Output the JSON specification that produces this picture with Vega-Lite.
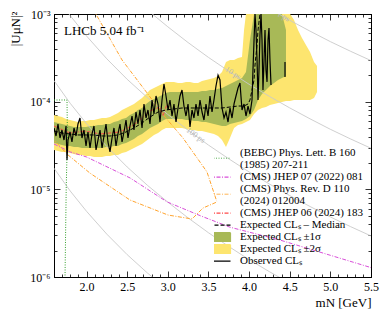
{
"$schema": "https://vega.github.io/schema/vega-lite/v6.json",
"width": 317, "height": 263,
"autosize": {"type": "none"},
"padding": {"left": 54, "top": 14, "right": 18, "bottom": 41},
"background": "white",
"config": {"view": {"stroke": "black", "strokeWidth": 1}, "axis": {"grid": false}, "font": "Liberation Serif"},
"datasets": {
"bands": [
{"m":1.6,"lo":2.81e-5,"hi":7.05e-5,"s":"s2"},{"m":1.649,"lo":2.74e-5,"hi":6.86e-5,"s":"s2"},{"m":1.698,"lo":2.67e-5,"hi":6.68e-5,"s":"s2"},{"m":1.748,"lo":2.67e-5,"hi":6.34e-5,"s":"s2"},{"m":1.797,"lo":2.6e-5,"hi":6.18e-5,"s":"s2"},{"m":1.846,"lo":2.53e-5,"hi":6.02e-5,"s":"s2"},{"m":1.895,"lo":2.46e-5,"hi":5.86e-5,"s":"s2"},{"m":1.944,"lo":2.46e-5,"hi":6.02e-5,"s":"s2"},{"m":1.994,"lo":2.4e-5,"hi":6.02e-5,"s":"s2"},{"m":2.043,"lo":2.4e-5,"hi":6.18e-5,"s":"s2"},{"m":2.092,"lo":2.34e-5,"hi":6.18e-5,"s":"s2"},{"m":2.141,"lo":2.34e-5,"hi":6.34e-5,"s":"s2"},{"m":2.191,"lo":2.34e-5,"hi":6.51e-5,"s":"s2"},{"m":2.24,"lo":2.4e-5,"hi":6.51e-5,"s":"s2"},{"m":2.289,"lo":2.4e-5,"hi":6.68e-5,"s":"s2"},{"m":2.338,"lo":2.46e-5,"hi":7.05e-5,"s":"s2"},{"m":2.387,"lo":2.46e-5,"hi":7.43e-5,"s":"s2"},{"m":2.437,"lo":2.6e-5,"hi":8.04e-5,"s":"s2"},{"m":2.486,"lo":2.67e-5,"hi":8.47e-5,"s":"s2"},{"m":2.535,"lo":2.81e-5,"hi":8.92e-5,"s":"s2"},{"m":2.584,"lo":2.96e-5,"hi":9.41e-5,"s":"s2"},{"m":2.633,"lo":3.12e-5,"hi":1.02e-4,"s":"s2"},{"m":2.683,"lo":3.29e-5,"hi":1.1e-4,"s":"s2"},{"m":2.732,"lo":3.56e-5,"hi":1.22e-4,"s":"s2"},{"m":2.781,"lo":3.85e-5,"hi":1.36e-4,"s":"s2"},{"m":2.83,"lo":4.17e-5,"hi":1.43e-4,"s":"s2"},{"m":2.88,"lo":4.39e-5,"hi":1.51e-4,"s":"s2"},{"m":2.929,"lo":4.75e-5,"hi":1.59e-4,"s":"s2"},{"m":2.978,"lo":5.01e-5,"hi":1.68e-4,"s":"s2"},{"m":3.027,"lo":5.01e-5,"hi":1.68e-4,"s":"s2"},{"m":3.076,"lo":5.01e-5,"hi":1.68e-4,"s":"s2"},{"m":3.126,"lo":5.01e-5,"hi":1.63e-4,"s":"s2"},{"m":3.175,"lo":5.01e-5,"hi":1.63e-4,"s":"s2"},{"m":3.224,"lo":4.88e-5,"hi":1.68e-4,"s":"s2"},{"m":3.273,"lo":4.75e-5,"hi":1.68e-4,"s":"s2"},{"m":3.322,"lo":4.75e-5,"hi":1.63e-4,"s":"s2"},{"m":3.372,"lo":4.63e-5,"hi":1.63e-4,"s":"s2"},{"m":3.421,"lo":4.63e-5,"hi":1.72e-4,"s":"s2"},{"m":3.47,"lo":4.51e-5,"hi":1.77e-4,"s":"s2"},{"m":3.519,"lo":4.39e-5,"hi":1.81e-4,"s":"s2"},{"m":3.568,"lo":4.28e-5,"hi":1.86e-4,"s":"s2"},{"m":3.618,"lo":4.06e-5,"hi":1.96e-4,"s":"s2"},{"m":3.667,"lo":3.65e-5,"hi":2.18e-4,"s":"s2"},{"m":3.716,"lo":3.04e-5,"hi":2.83e-4,"s":"s2"},{"m":3.765,"lo":3.85e-5,"hi":2.99e-4,"s":"s2"},{"m":3.815,"lo":5.01e-5,"hi":2.99e-4,"s":"s2"},{"m":3.864,"lo":5.42e-5,"hi":3.15e-4,"s":"s2"},{"m":3.913,"lo":5.56e-5,"hi":3.23e-4,"s":"s2"},{"m":3.938,"lo":5.71e-5,"hi":6.57e-4,"s":"s2"},{"m":3.962,"lo":5.86e-5,"hi":1e-3,"s":"s2"},{"m":4.011,"lo":6.18e-5,"hi":1e-3,"s":"s2"},{"m":4.061,"lo":7.23e-5,"hi":1e-3,"s":"s2"},{"m":4.11,"lo":8.04e-5,"hi":1e-3,"s":"s2"},{"m":4.159,"lo":8.47e-5,"hi":1e-3,"s":"s2"},{"m":4.208,"lo":8.69e-5,"hi":1e-3,"s":"s2"},{"m":4.257,"lo":9.16e-5,"hi":1e-3,"s":"s2"},{"m":4.307,"lo":9.41e-5,"hi":1e-3,"s":"s2"},{"m":4.356,"lo":9.66e-5,"hi":1e-3,"s":"s2"},{"m":4.405,"lo":9.92e-5,"hi":1e-3,"s":"s2"},{"m":4.454,"lo":1.02e-4,"hi":1e-3,"s":"s2"},{"m":4.504,"lo":1.02e-4,"hi":1e-3,"s":"s2"},{"m":4.553,"lo":1.045e-4,"hi":8.54e-4,"s":"s2"},{"m":4.602,"lo":1.045e-4,"hi":6.57e-4,"s":"s2"},{"m":4.651,"lo":1.045e-4,"hi":5.32e-4,"s":"s2"},{"m":4.7,"lo":1.045e-4,"hi":4.43e-4,"s":"s2"},{"m":4.75,"lo":1.045e-4,"hi":3.69e-4,"s":"s2"},{"m":4.799,"lo":1.1e-4,"hi":2.83e-4,"s":"s2"},{"m":4.836,"lo":1.29e-4,"hi":2.55e-4,"s":"s2"},
{"m":1.6,"lo":3.38e-5,"hi":5.86e-5,"s":"s1"},{"m":1.649,"lo":3.29e-5,"hi":5.71e-5,"s":"s1"},{"m":1.698,"lo":3.2e-5,"hi":5.56e-5,"s":"s1"},{"m":1.748,"lo":3.12e-5,"hi":5.42e-5,"s":"s1"},{"m":1.797,"lo":3.12e-5,"hi":5.28e-5,"s":"s1"},{"m":1.846,"lo":3.04e-5,"hi":5.14e-5,"s":"s1"},{"m":1.895,"lo":3.04e-5,"hi":5.14e-5,"s":"s1"},{"m":1.944,"lo":2.96e-5,"hi":5.14e-5,"s":"s1"},{"m":1.994,"lo":2.96e-5,"hi":5.14e-5,"s":"s1"},{"m":2.043,"lo":2.96e-5,"hi":5.28e-5,"s":"s1"},{"m":2.092,"lo":2.96e-5,"hi":5.28e-5,"s":"s1"},{"m":2.141,"lo":2.96e-5,"hi":5.42e-5,"s":"s1"},{"m":2.191,"lo":2.96e-5,"hi":5.42e-5,"s":"s1"},{"m":2.24,"lo":3.04e-5,"hi":5.56e-5,"s":"s1"},{"m":2.289,"lo":3.04e-5,"hi":5.56e-5,"s":"s1"},{"m":2.338,"lo":3.12e-5,"hi":5.86e-5,"s":"s1"},{"m":2.387,"lo":3.12e-5,"hi":6.02e-5,"s":"s1"},{"m":2.437,"lo":3.29e-5,"hi":6.34e-5,"s":"s1"},{"m":2.486,"lo":3.38e-5,"hi":6.51e-5,"s":"s1"},{"m":2.535,"lo":3.56e-5,"hi":7.05e-5,"s":"s1"},{"m":2.584,"lo":3.75e-5,"hi":7.43e-5,"s":"s1"},{"m":2.633,"lo":4.06e-5,"hi":8.04e-5,"s":"s1"},{"m":2.683,"lo":4.28e-5,"hi":8.47e-5,"s":"s1"},{"m":2.732,"lo":4.63e-5,"hi":9.41e-5,"s":"s1"},{"m":2.781,"lo":5.01e-5,"hi":1.02e-4,"s":"s1"},{"m":2.83,"lo":5.28e-5,"hi":1.07e-4,"s":"s1"},{"m":2.88,"lo":5.56e-5,"hi":1.13e-4,"s":"s1"},{"m":2.929,"lo":6.02e-5,"hi":1.19e-4,"s":"s1"},{"m":2.978,"lo":6.34e-5,"hi":1.26e-4,"s":"s1"},{"m":3.027,"lo":6.34e-5,"hi":1.29e-4,"s":"s1"},{"m":3.076,"lo":6.34e-5,"hi":1.29e-4,"s":"s1"},{"m":3.126,"lo":6.34e-5,"hi":1.29e-4,"s":"s1"},{"m":3.175,"lo":6.34e-5,"hi":1.29e-4,"s":"s1"},{"m":3.224,"lo":6.18e-5,"hi":1.29e-4,"s":"s1"},{"m":3.273,"lo":6.18e-5,"hi":1.29e-4,"s":"s1"},{"m":3.322,"lo":6.02e-5,"hi":1.29e-4,"s":"s1"},{"m":3.372,"lo":6.02e-5,"hi":1.29e-4,"s":"s1"},{"m":3.421,"lo":5.86e-5,"hi":1.32e-4,"s":"s1"},{"m":3.47,"lo":5.86e-5,"hi":1.32e-4,"s":"s1"},{"m":3.519,"lo":5.71e-5,"hi":1.36e-4,"s":"s1"},{"m":3.568,"lo":5.56e-5,"hi":1.36e-4,"s":"s1"},{"m":3.618,"lo":5.42e-5,"hi":1.4e-4,"s":"s1"},{"m":3.667,"lo":5.28e-5,"hi":1.43e-4,"s":"s1"},{"m":3.716,"lo":5.28e-5,"hi":1.51e-4,"s":"s1"},{"m":3.765,"lo":5.56e-5,"hi":1.59e-4,"s":"s1"},{"m":3.815,"lo":5.71e-5,"hi":1.68e-4,"s":"s1"},{"m":3.864,"lo":5.86e-5,"hi":1.77e-4,"s":"s1"},{"m":3.913,"lo":6.02e-5,"hi":1.86e-4,"s":"s1"},{"m":3.962,"lo":6.34e-5,"hi":2.18e-4,"s":"s1"},{"m":4.011,"lo":6.86e-5,"hi":5.05e-4,"s":"s1"},{"m":4.061,"lo":8.04e-5,"hi":1e-3,"s":"s1"},{"m":4.11,"lo":1.045e-4,"hi":1e-3,"s":"s1"},{"m":4.159,"lo":1.22e-4,"hi":1e-3,"s":"s1"},{"m":4.208,"lo":1.36e-4,"hi":1e-3,"s":"s1"},{"m":4.257,"lo":1.51e-4,"hi":1e-3,"s":"s1"},{"m":4.307,"lo":1.63e-4,"hi":1e-3,"s":"s1"},{"m":4.356,"lo":1.77e-4,"hi":1e-3,"s":"s1"},{"m":4.405,"lo":1.86e-4,"hi":1e-3,"s":"s1"},{"m":4.454,"lo":1.96e-4,"hi":6.57e-4,"s":"s1"}
],
"life": [
{"m":4.0,"u":1.58e-3,"t":"1"},{"m":4.25,"u":1.15e-3,"t":"1"},{"m":4.5,"u":8.49e-4,"t":"1"},{"m":4.75,"u":6.37e-4,"t":"1"},{"m":5.0,"u":4.84e-4,"t":"1"},{"m":5.25,"u":3.75e-4,"t":"1"},{"m":5.5,"u":2.94e-4,"t":"1"},
{"m":2.5,"u":1.8e-3,"t":"10"},{"m":2.75,"u":1.11e-3,"t":"10"},{"m":3.0,"u":7.15e-4,"t":"10"},{"m":3.25,"u":4.72e-4,"t":"10"},{"m":3.5,"u":3.2e-4,"t":"10"},{"m":3.75,"u":2.23e-4,"t":"10"},{"m":4.0,"u":1.58e-4,"t":"10"},{"m":4.25,"u":1.15e-4,"t":"10"},{"m":4.5,"u":8.49e-5,"t":"10"},{"m":4.75,"u":6.37e-5,"t":"10"},{"m":5.0,"u":4.84e-5,"t":"10"},{"m":5.25,"u":3.75e-5,"t":"10"},{"m":5.5,"u":2.94e-5,"t":"10"},
{"m":1.6,"u":1.74e-3,"t":"100"},{"m":1.8,"u":9.56e-4,"t":"100"},{"m":2.0,"u":5.62e-4,"t":"100"},{"m":2.25,"u":3.08e-4,"t":"100"},{"m":2.5,"u":1.8e-4,"t":"100"},{"m":2.75,"u":1.11e-4,"t":"100"},{"m":3.0,"u":7.15e-5,"t":"100"},{"m":3.25,"u":4.72e-5,"t":"100"},{"m":3.5,"u":3.2e-5,"t":"100"},{"m":3.75,"u":2.23e-5,"t":"100"},{"m":4.0,"u":1.58e-5,"t":"100"},{"m":4.25,"u":1.15e-5,"t":"100"},{"m":4.5,"u":8.49e-6,"t":"100"},{"m":4.75,"u":6.37e-6,"t":"100"},{"m":5.0,"u":4.84e-6,"t":"100"},{"m":5.25,"u":3.75e-6,"t":"100"},{"m":5.5,"u":2.94e-6,"t":"100"},
{"m":1.6,"u":1.74e-4,"t":"1000"},{"m":1.8,"u":9.56e-5,"t":"1000"},{"m":2.0,"u":5.62e-5,"t":"1000"},{"m":2.25,"u":3.08e-5,"t":"1000"},{"m":2.5,"u":1.8e-5,"t":"1000"},{"m":2.75,"u":1.11e-5,"t":"1000"},{"m":3.0,"u":7.15e-6,"t":"1000"},{"m":3.25,"u":4.72e-6,"t":"1000"},{"m":3.5,"u":3.2e-6,"t":"1000"},{"m":3.75,"u":2.23e-6,"t":"1000"},{"m":4.0,"u":1.58e-6,"t":"1000"},{"m":4.25,"u":1.15e-6,"t":"1000"},{"m":4.5,"u":8.49e-7,"t":"1000"},
{"m":1.6,"u":1.74e-5,"t":"10000"},{"m":1.8,"u":9.56e-6,"t":"10000"},{"m":2.0,"u":5.62e-6,"t":"10000"},{"m":2.25,"u":3.08e-6,"t":"10000"},{"m":2.5,"u":1.8e-6,"t":"10000"},{"m":2.75,"u":1.11e-6,"t":"10000"},{"m":3.0,"u":7.15e-7,"t":"10000"}
],
"lines": [
{"m":1.6,"u":1.045e-4,"s":"bebc","g":"bebc","i":1},{"m":1.76,"u":1.045e-4,"s":"bebc","g":"bebc","i":2},{"m":1.765,"u":4e-5,"s":"bebc","g":"bebc","i":3},{"m":1.75,"u":1e-5,"s":"bebc","g":"bebc","i":4},{"m":1.735,"u":9e-7,"s":"bebc","g":"bebc","i":5},
{"m":1.6,"u":3.29e-5,"s":"cms07","g":"cms07","i":6},{"m":1.8,"u":2.67e-5,"s":"cms07","g":"cms07","i":7},{"m":2.0,"u":2.34e-5,"s":"cms07","g":"cms07","i":8},{"m":2.535,"u":1.35e-5,"s":"cms07","g":"cms07","i":9},{"m":2.99,"u":7.2e-6,"s":"cms07","g":"cms07","i":10},{"m":3.4,"u":5.0e-6,"s":"cms07","g":"cms07","i":11},{"m":3.765,"u":3.7e-6,"s":"cms07","g":"cms07","i":12},{"m":4.38,"u":2.64e-6,"s":"cms07","g":"cms07","i":13},{"m":5.5,"u":1.28e-6,"s":"cms07","g":"cms07","i":14},
{"m":2.08,"u":1.14e-3,"s":"cmsprd","g":"cmsprd","i":15},{"m":2.437,"u":2.99e-4,"s":"cmsprd","g":"cmsprd","i":16},{"m":2.744,"u":1.26e-4,"s":"cmsprd","g":"cmsprd","i":17},{"m":2.966,"u":6.68e-5,"s":"cmsprd","g":"cmsprd","i":18},{"m":3.187,"u":3.85e-5,"s":"cmsprd","g":"cmsprd","i":19},{"m":3.482,"u":1.58e-5,"s":"cmsprd","g":"cmsprd","i":20},{"m":3.605,"u":7.18e-6,"s":"cmsprd","g":"cmsprd","i":21},{"m":3.433,"u":6.12e-6,"s":"cmsprd","g":"cmsprd","i":22},{"m":3.298,"u":4.59e-6,"s":"cmsprd","g":"cmsprd","i":23},{"m":3.003,"u":5.09e-6,"s":"cmsprd","g":"cmsprd","i":24},{"m":2.535,"u":7.55e-6,"s":"cmsprd","g":"cmsprd","i":25},{"m":2.043,"u":1.53e-5,"s":"cmsprd","g":"cmsprd","i":26},{"m":1.772,"u":2.47e-5,"s":"cmsprd","g":"cmsprd","i":27},{"m":1.6,"u":3.65e-5,"s":"cmsprd","g":"cmsprd","i":28},
{"m":1.6,"u":5.28e-5,"s":"cms06","g":"cms06","i":29},{"m":1.797,"u":4.39e-5,"s":"cms06","g":"cms06","i":30},{"m":1.981,"u":4.63e-5,"s":"cms06","g":"cms06","i":31},{"m":2.166,"u":4.28e-5,"s":"cms06","g":"cms06","i":32},{"m":2.412,"u":4.51e-5,"s":"cms06","g":"cms06","i":33},{"m":2.597,"u":5.56e-5,"s":"cms06","g":"cms06","i":34},{"m":2.781,"u":7.83e-5,"s":"cms06","g":"cms06","i":35},{"m":2.904,"u":8.69e-5,"s":"cms06","g":"cms06","i":36},{"m":2.941,"u":6.86e-5,"s":"cms06","g":"cms06","i":37},{"m":2.99,"u":9.41e-5,"s":"cms06","g":"cms06","i":38},
{"m":1.6,"u":4.63e-5,"s":"median","g":"median","i":39},{"m":1.698,"u":4.39e-5,"s":"median","g":"median","i":40},{"m":1.797,"u":4.28e-5,"s":"median","g":"median","i":41},{"m":1.895,"u":4.17e-5,"s":"median","g":"median","i":42},{"m":1.994,"u":4.17e-5,"s":"median","g":"median","i":43},{"m":2.092,"u":4.17e-5,"s":"median","g":"median","i":44},{"m":2.191,"u":4.06e-5,"s":"median","g":"median","i":45},{"m":2.289,"u":4.06e-5,"s":"median","g":"median","i":46},{"m":2.387,"u":4.17e-5,"s":"median","g":"median","i":47},{"m":2.486,"u":4.51e-5,"s":"median","g":"median","i":48},{"m":2.584,"u":5.01e-5,"s":"median","g":"median","i":49},{"m":2.683,"u":5.71e-5,"s":"median","g":"median","i":50},{"m":2.781,"u":6.68e-5,"s":"median","g":"median","i":51},{"m":2.88,"u":7.62e-5,"s":"median","g":"median","i":52},{"m":2.978,"u":8.04e-5,"s":"median","g":"median","i":53},{"m":3.076,"u":8.25e-5,"s":"median","g":"median","i":54},{"m":3.175,"u":8.47e-5,"s":"median","g":"median","i":55},{"m":3.273,"u":8.47e-5,"s":"median","g":"median","i":56},{"m":3.372,"u":8.47e-5,"s":"median","g":"median","i":57},{"m":3.47,"u":8.47e-5,"s":"median","g":"median","i":58},{"m":3.568,"u":8.47e-5,"s":"median","g":"median","i":59},{"m":3.667,"u":8.47e-5,"s":"median","g":"median","i":60},{"m":3.765,"u":8.69e-5,"s":"median","g":"median","i":61},{"m":3.864,"u":8.92e-5,"s":"median","g":"median","i":62},{"m":3.938,"u":8.92e-5,"s":"median","g":"median","i":63},{"m":3.987,"u":9.41e-5,"s":"median","g":"median","i":64},{"m":4.011,"u":1.045e-4,"s":"median","g":"median","i":65},{"m":4.036,"u":1.36e-4,"s":"median","g":"median","i":66},{"m":4.061,"u":1.77e-4,"s":"median","g":"median","i":67},{"m":4.073,"u":2.62e-4,"s":"median","g":"median","i":68},{"m":4.098,"u":4.43e-4,"s":"median","g":"median","i":69},{"m":4.11,"u":6.57e-4,"s":"median","g":"median","i":70},{"m":4.134,"u":1.0e-3,"s":"median","g":"median","i":71},
{"m":1.6,"u":5.01e-5,"s":"obs","g":"obs","i":100},{"m":1.625,"u":4.06e-5,"s":"obs","g":"obs","i":101},{"m":1.649,"u":5.56e-5,"s":"obs","g":"obs","i":102},{"m":1.674,"u":3.85e-5,"s":"obs","g":"obs","i":103},{"m":1.698,"u":4.75e-5,"s":"obs","g":"obs","i":104},{"m":1.723,"u":3.65e-5,"s":"obs","g":"obs","i":105},{"m":1.748,"u":5.28e-5,"s":"obs","g":"obs","i":106},{"m":1.76,"u":2.16e-5,"s":"obs","g":"obs","i":107},{"m":1.772,"u":3.65e-5,"s":"obs","g":"obs","i":108},{"m":1.797,"u":4.51e-5,"s":"obs","g":"obs","i":109},{"m":1.821,"u":3.47e-5,"s":"obs","g":"obs","i":110},{"m":1.846,"u":5.01e-5,"s":"obs","g":"obs","i":111},{"m":1.871,"u":4.06e-5,"s":"obs","g":"obs","i":112},{"m":1.895,"u":5.56e-5,"s":"obs","g":"obs","i":113},{"m":1.92,"u":6.51e-5,"s":"obs","g":"obs","i":114},{"m":1.944,"u":3.85e-5,"s":"obs","g":"obs","i":115},{"m":1.969,"u":4.75e-5,"s":"obs","g":"obs","i":116},{"m":1.994,"u":3.12e-5,"s":"obs","g":"obs","i":117},{"m":2.018,"u":4.51e-5,"s":"obs","g":"obs","i":118},{"m":2.043,"u":2.96e-5,"s":"obs","g":"obs","i":119},{"m":2.068,"u":4.28e-5,"s":"obs","g":"obs","i":120},{"m":2.092,"u":5.28e-5,"s":"obs","g":"obs","i":121},{"m":2.117,"u":2.81e-5,"s":"obs","g":"obs","i":122},{"m":2.141,"u":3.65e-5,"s":"obs","g":"obs","i":123},{"m":2.166,"u":4.75e-5,"s":"obs","g":"obs","i":124},{"m":2.191,"u":2.96e-5,"s":"obs","g":"obs","i":125},{"m":2.215,"u":4.06e-5,"s":"obs","g":"obs","i":126},{"m":2.24,"u":5.56e-5,"s":"obs","g":"obs","i":127},{"m":2.264,"u":3.47e-5,"s":"obs","g":"obs","i":128},{"m":2.289,"u":2.67e-5,"s":"obs","g":"obs","i":129},{"m":2.314,"u":3.85e-5,"s":"obs","g":"obs","i":130},{"m":2.338,"u":5.01e-5,"s":"obs","g":"obs","i":131},{"m":2.363,"u":3.12e-5,"s":"obs","g":"obs","i":132},{"m":2.387,"u":4.28e-5,"s":"obs","g":"obs","i":133},{"m":2.412,"u":5.56e-5,"s":"obs","g":"obs","i":134},{"m":2.437,"u":3.47e-5,"s":"obs","g":"obs","i":135},{"m":2.461,"u":4.51e-5,"s":"obs","g":"obs","i":136},{"m":2.486,"u":6.18e-5,"s":"obs","g":"obs","i":137},{"m":2.51,"u":3.85e-5,"s":"obs","g":"obs","i":138},{"m":2.535,"u":5.28e-5,"s":"obs","g":"obs","i":139},{"m":2.56,"u":6.86e-5,"s":"obs","g":"obs","i":140},{"m":2.584,"u":4.75e-5,"s":"obs","g":"obs","i":141},{"m":2.609,"u":7.62e-5,"s":"obs","g":"obs","i":142},{"m":2.633,"u":5.56e-5,"s":"obs","g":"obs","i":143},{"m":2.658,"u":8.04e-5,"s":"obs","g":"obs","i":144},{"m":2.683,"u":5.01e-5,"s":"obs","g":"obs","i":145},{"m":2.707,"u":9.41e-5,"s":"obs","g":"obs","i":146},{"m":2.732,"u":6.51e-5,"s":"obs","g":"obs","i":147},{"m":2.756,"u":8.04e-5,"s":"obs","g":"obs","i":148},{"m":2.781,"u":5.56e-5,"s":"obs","g":"obs","i":149},{"m":2.806,"u":1.045e-4,"s":"obs","g":"obs","i":150},{"m":2.83,"u":7.23e-5,"s":"obs","g":"obs","i":151},{"m":2.855,"u":1.16e-4,"s":"obs","g":"obs","i":152},{"m":2.88,"u":9.41e-5,"s":"obs","g":"obs","i":153},{"m":2.904,"u":5.86e-5,"s":"obs","g":"obs","i":154},{"m":2.929,"u":1.045e-4,"s":"obs","g":"obs","i":155},{"m":2.953,"u":1.59e-4,"s":"obs","g":"obs","i":156},{"m":2.978,"u":1.16e-4,"s":"obs","g":"obs","i":157},{"m":3.003,"u":8.04e-5,"s":"obs","g":"obs","i":158},{"m":3.027,"u":1.045e-4,"s":"obs","g":"obs","i":159},{"m":3.052,"u":6.86e-5,"s":"obs","g":"obs","i":160},{"m":3.076,"u":9.41e-5,"s":"obs","g":"obs","i":161},{"m":3.101,"u":5.86e-5,"s":"obs","g":"obs","i":162},{"m":3.126,"u":8.47e-5,"s":"obs","g":"obs","i":163},{"m":3.15,"u":1.16e-4,"s":"obs","g":"obs","i":164},{"m":3.175,"u":1.36e-4,"s":"obs","g":"obs","i":165},{"m":3.199,"u":8.92e-5,"s":"obs","g":"obs","i":166},{"m":3.224,"u":6.86e-5,"s":"obs","g":"obs","i":167},{"m":3.249,"u":9.41e-5,"s":"obs","g":"obs","i":168},{"m":3.273,"u":5.14e-5,"s":"obs","g":"obs","i":169},{"m":3.298,"u":8.04e-5,"s":"obs","g":"obs","i":170},{"m":3.322,"u":6.51e-5,"s":"obs","g":"obs","i":171},{"m":3.347,"u":9.41e-5,"s":"obs","g":"obs","i":172},{"m":3.372,"u":6.86e-5,"s":"obs","g":"obs","i":173},{"m":3.396,"u":1.045e-4,"s":"obs","g":"obs","i":174},{"m":3.421,"u":7.62e-5,"s":"obs","g":"obs","i":175},{"m":3.445,"u":6.18e-5,"s":"obs","g":"obs","i":176},{"m":3.47,"u":9.41e-5,"s":"obs","g":"obs","i":177},{"m":3.495,"u":6.86e-5,"s":"obs","g":"obs","i":178},{"m":3.519,"u":1.16e-4,"s":"obs","g":"obs","i":179},{"m":3.544,"u":7.62e-5,"s":"obs","g":"obs","i":180},{"m":3.568,"u":1.045e-4,"s":"obs","g":"obs","i":181},{"m":3.593,"u":1.51e-4,"s":"obs","g":"obs","i":182},{"m":3.618,"u":2.01e-4,"s":"obs","g":"obs","i":183},{"m":3.642,"u":1.77e-4,"s":"obs","g":"obs","i":184},{"m":3.667,"u":8.47e-5,"s":"obs","g":"obs","i":185},{"m":3.692,"u":6.51e-5,"s":"obs","g":"obs","i":186},{"m":3.716,"u":7.62e-5,"s":"obs","g":"obs","i":187},{"m":3.741,"u":5.86e-5,"s":"obs","g":"obs","i":188},{"m":3.765,"u":8.47e-5,"s":"obs","g":"obs","i":189},{"m":3.79,"u":6.51e-5,"s":"obs","g":"obs","i":190},{"m":3.815,"u":9.41e-5,"s":"obs","g":"obs","i":191},{"m":3.839,"u":1.16e-4,"s":"obs","g":"obs","i":192},{"m":3.864,"u":1.43e-4,"s":"obs","g":"obs","i":193},{"m":3.888,"u":1.63e-4,"s":"obs","g":"obs","i":194},{"m":3.913,"u":8.04e-5,"s":"obs","g":"obs","i":195},{"m":3.938,"u":9.41e-5,"s":"obs","g":"obs","i":196},{"m":3.962,"u":6.86e-5,"s":"obs","g":"obs","i":197},{"m":3.987,"u":8.92e-5,"s":"obs","g":"obs","i":198},{"m":4.011,"u":7.23e-5,"s":"obs","g":"obs","i":199},{"m":4.036,"u":1.045e-4,"s":"obs","g":"obs","i":200},{"m":4.048,"u":2.3e-4,"s":"obs","g":"obs","i":201},{"m":4.061,"u":5.05e-4,"s":"obs","g":"obs","i":202},{"m":4.073,"u":1.0e-3,"s":"obs","g":"obs","i":203},{"m":4.085,"u":6.57e-4,"s":"obs","g":"obs","i":204},{"m":4.098,"u":2.99e-4,"s":"obs","g":"obs","i":205},{"m":4.11,"u":1.045e-4,"s":"obs","g":"obs","i":206},{"m":4.122,"u":2.3e-4,"s":"obs","g":"obs","i":207},{"m":4.134,"u":5.76e-4,"s":"obs","g":"obs","i":208},{"m":4.147,"u":1.0e-3,"s":"obs","g":"obs","i":209},{"m":4.159,"u":5.05e-4,"s":"obs","g":"obs","i":210},{"m":4.171,"u":1.36e-4,"s":"obs","g":"obs","i":211},{"m":4.184,"u":2.99e-4,"s":"obs","g":"obs","i":212},{"m":4.196,"u":6.57e-4,"s":"obs","g":"obs","i":213},{"m":4.208,"u":2.3e-4,"s":"obs","g":"obs","i":214},{"m":4.221,"u":1.68e-4,"s":"obs","g":"obs","i":215},{"m":4.233,"u":5.05e-4,"s":"obs","g":"obs","i":216},{"m":4.245,"u":6.92e-4,"s":"obs","g":"obs","i":217},{"m":4.257,"u":2.99e-4,"s":"obs","g":"obs","i":218},{"m":4.27,"u":1.55e-4,"s":"obs","g":"obs","i":219},
{"m":4.442,"u":2.83e-4,"s":"obs","g":"obs2","i":300},{"m":4.442,"u":1.91e-4,"s":"obs","g":"obs2","i":301}
]
},
"resolve": {"axis": {"x": "independent", "y": "independent"}},
"layer": [
{
"encoding": {
"color": {"field": "s", "type": "nominal",
"scale": {"domain": ["bebc","bebc2","cms07","cmsprd","cmsprd2","cms06","median","s1","s2","obs"], "range": ["#33a02c","#ffffff","#d94fd9","#ffa42e","#ffffff","#ff4a4a","#000000","#a8b957","#fde56f","#000000"]},
"legend": {"orient": "none", "legendX": 160, "legendY": 133.4, "title": null, "padding": 0,
"labelFont": "Liberation Serif", "labelFontSize": 11, "labelColor": "black", "labelLimit": 400, "labelOffset": 15,
"symbolSize": 64, "symbolStrokeWidth": 1.2, "symbolType": "M-2.75,0H2.75", "rowPadding": -1.85, "clipHeight": 11.3,
"labelExpr": "datum.value=='bebc' ? '(BEBC) Phys. Lett. B 160' : datum.value=='bebc2' ? '(1985) 207-211' : datum.value=='cms07' ? '(CMS) JHEP 07 (2022) 081' : datum.value=='cmsprd' ? '(CMS) Phys. Rev. D 110' : datum.value=='cmsprd2' ? '(2024) 012004' : datum.value=='cms06' ? '(CMS) JHEP 06 (2024) 183' : datum.value=='median' ? 'Expected CLₛ – Median' : datum.value=='s1' ? 'Expected CLₛ ±1σ' : datum.value=='s2' ? 'Expected CLₛ ±2σ' : 'Observed CLₛ'",
"encode": {"symbols": {"update": {
"shape": {"signal": "(datum.value=='s1'||datum.value=='s2') ? 'M-2.75,-1.1H2.75V1.1H-2.75Z' : (datum.value=='bebc'||datum.value=='cmsprd') ? 'M-2.75,1.3H2.75' : 'M-2.75,0H2.75'"},
"size": {"value": 64},
"fill": {"signal": "datum.value=='s1' ? '#a8b957' : datum.value=='s2' ? '#fde56f' : 'transparent'"},
"stroke": {"signal": "datum.value=='bebc' ? '#33a02c' : datum.value=='cms07' ? '#d94fd9' : datum.value=='cmsprd' ? '#ffa42e' : datum.value=='cms06' ? '#ff4a4a' : (datum.value=='median'||datum.value=='obs') ? 'black' : 'transparent'"},
"strokeDash": {"signal": "datum.value=='bebc' ? [1,1.5] : datum.value=='median' ? [4,2] : (datum.value=='cms07'||datum.value=='cmsprd'||datum.value=='cms06') ? [4,1.5,1,1.5] : [1,0]"},
"strokeWidth": {"value": 1.2},
"opacity": {"value": 1}
}}}
}
}
},
"layer": [
{"data": {"name": "bands"}, "transform": [{"filter": "datum.s=='s2'"}],
"mark": {"type": "area", "clip": true},
"encoding": {
"x": {"field": "m", "type": "quantitative", "scale": {"domain": [1.6, 5.5], "nice": false, "zero": false}, "axis": null},
"y": {"field": "lo", "type": "quantitative", "scale": {"type": "log", "domain": [1e-6, 1e-3], "nice": false}, "axis": null},
"y2": {"field": "hi"}}},
{"data": {"name": "bands"}, "transform": [{"filter": "datum.s=='s1'"}],
"mark": {"type": "area", "clip": true},
"encoding": {
"x": {"field": "m", "type": "quantitative", "scale": {"domain": [1.6, 5.5], "nice": false, "zero": false}, "axis": null},
"y": {"field": "lo", "type": "quantitative", "scale": {"type": "log", "domain": [1e-6, 1e-3], "nice": false}, "axis": null},
"y2": {"field": "hi"}}},
{"data": {"name": "life"},
"mark": {"type": "line", "clip": true, "strokeWidth": 0.9},
"encoding": {
"x": {"field": "m", "type": "quantitative", "scale": {"domain": [1.6, 5.5], "nice": false, "zero": false}, "axis": null},
"y": {"field": "u", "type": "quantitative", "scale": {"type": "log", "domain": [1e-6, 1e-3], "nice": false}, "axis": null},
"detail": {"field": "t"},
"color": {"value": "#c9c9c9"}}},
{"data": {"name": "lines"}, "transform": [{"filter": "datum.s=='bebc'||datum.s=='cms07'||datum.s=='cmsprd'||datum.s=='cms06'||datum.s=='median'"}],
"mark": {"type": "line", "clip": true, "strokeWidth": 1},
"encoding": {
"x": {"field": "m", "type": "quantitative", "scale": {"domain": [1.6, 5.5], "nice": false, "zero": false}, "axis": null},
"y": {"field": "u", "type": "quantitative", "scale": {"type": "log", "domain": [1e-6, 1e-3], "nice": false}, "axis": null},
"detail": {"field": "g"},
"order": {"field": "i", "type": "quantitative"},
"strokeDash": {"field": "s", "type": "nominal", "scale": {"domain": ["bebc","cms07","cmsprd","cms06","median"], "range": [[1,1.5],[4,1.5,1,1.5],[4,1.5,1,1.5],[3,1.5,1,1.5],[4,2]]}, "legend": null}}},
{"data": {"name": "lines"}, "transform": [{"filter": "datum.s=='obs'"}],
"mark": {"type": "line", "clip": true, "strokeWidth": 1.2},
"encoding": {
"x": {"field": "m", "type": "quantitative", "scale": {"domain": [1.6, 5.5], "nice": false, "zero": false}, "axis": null},
"y": {"field": "u", "type": "quantitative", "scale": {"type": "log", "domain": [1e-6, 1e-3], "nice": false}, "axis": null},
"detail": {"field": "g"},
"order": {"field": "i", "type": "quantitative"}}}
]
},
{"data": {"values": [{}]},
"mark": {"type": "text", "angle": 28, "font": "Liberation Serif", "fontSize": 8, "color": "#b5b5b5", "clip": true},
"encoding": {
"x": {"datum": 4.42, "type": "quantitative", "scale": {"domain": [1.6, 5.5], "nice": false, "zero": false}, "axis": null},
"y": {"datum": 9.3e-4, "type": "quantitative", "scale": {"type": "log", "domain": [1e-6, 1e-3], "nice": false}, "axis": null},
"text": {"value": "1 ps"}}},
{"data": {"values": [{}]},
"mark": {"type": "text", "angle": 32, "font": "Liberation Serif", "fontSize": 8, "color": "#b5b5b5"},
"encoding": {
"x": {"datum": 3.8, "type": "quantitative", "scale": {"domain": [1.6, 5.5], "nice": false, "zero": false}, "axis": null},
"y": {"datum": 2.1e-4, "type": "quantitative", "scale": {"type": "log", "domain": [1e-6, 1e-3], "nice": false}, "axis": null},
"text": {"value": "10 ps"}}},
{"data": {"values": [{}]},
"mark": {"type": "text", "angle": 35, "font": "Liberation Serif", "fontSize": 8, "color": "#b5b5b5"},
"encoding": {
"x": {"datum": 3.34, "type": "quantitative", "scale": {"domain": [1.6, 5.5], "nice": false, "zero": false}, "axis": null},
"y": {"datum": 4.1e-5, "type": "quantitative", "scale": {"type": "log", "domain": [1e-6, 1e-3], "nice": false}, "axis": null},
"text": {"value": "100 ps"}}},
{"data": {"values": [{}]},
"mark": {"type": "text", "align": "left", "baseline": "middle", "font": "Liberation Serif", "fontSize": 13, "color": "black"},
"encoding": {
"x": {"datum": 1.723, "type": "quantitative", "scale": {"domain": [1.6, 5.5], "nice": false, "zero": false}, "axis": null},
"y": {"datum": 6.4e-4, "type": "quantitative", "scale": {"type": "log", "domain": [1e-6, 1e-3], "nice": false}, "axis": null},
"text": {"value": "LHCb 5.04 fb⁻¹"}}},
{"data": {"values": [{}]},
"mark": {"type": "point", "opacity": 0},
"encoding": {
"x": {"datum": 3, "type": "quantitative", "scale": {"domain": [1.6, 5.5], "nice": false, "zero": false},
"axis": {"orient": "bottom", "values": [1.7,1.8,1.9,2,2.1,2.2,2.3,2.4,2.5,2.6,2.7,2.8,2.9,3,3.1,3.2,3.3,3.4,3.5,3.6,3.7,3.8,3.9,4,4.1,4.2,4.3,4.4,4.5,4.6,4.7,4.8,4.9,5,5.1,5.2,5.3,5.4,5.5],
"tickSize": {"condition": {"test": "abs(datum.value*2-round(datum.value*2))<0.01", "value": -6}, "value": -3},
"tickColor": "black", "tickWidth": 0.8, "domainColor": "black", "domainWidth": 1, "grid": false,
"labelExpr": "abs(datum.value*2-round(datum.value*2))<0.01 ? format(datum.value,'.1f') : ''",
"labelFont": "Liberation Serif", "labelFontSize": 12, "labelColor": "black", "labelPadding": 10, "labelOverlap": false, "labelFlush": false,
"title": "mN [GeV]", "titleFont": "Liberation Serif", "titleFontSize": 13, "titleFontWeight": "normal", "titleColor": "black",
"titleX": 317, "titleY": 29, "titleAlign": "right", "titleBaseline": "alphabetic", "titleAnchor": "end"}},
"y": {"datum": 1e-5, "type": "quantitative", "scale": {"type": "log", "domain": [1e-6, 1e-3], "nice": false},
"axis": {"orient": "left", "values": [1e-6,2e-6,3e-6,4e-6,5e-6,6e-6,7e-6,8e-6,9e-6,1e-5,2e-5,3e-5,4e-5,5e-5,6e-5,7e-5,8e-5,9e-5,1e-4,2e-4,3e-4,4e-4,5e-4,6e-4,7e-4,8e-4,9e-4,1e-3],
"tickSize": {"condition": {"test": "abs(log(datum.value)/LN10-round(log(datum.value)/LN10))<0.01", "value": -6}, "value": -3},
"tickColor": "black", "tickWidth": 0.8, "domainColor": "black", "domainWidth": 1, "grid": false,
"labelExpr": "abs(log(datum.value)/LN10-round(log(datum.value)/LN10))<0.01 ? (round(log(datum.value)/LN10)==-3 ? '10⁻³' : round(log(datum.value)/LN10)==-4 ? '10⁻⁴' : round(log(datum.value)/LN10)==-5 ? '10⁻⁵' : '10⁻⁶') : ''",
"labelFont": "Liberation Serif", "labelFontSize": 12, "labelColor": "black", "labelPadding": 10, "labelOverlap": false, "labelFlush": false,
"title": "|UμN|²", "titleFont": "Liberation Serif", "titleFontSize": 13, "titleFontWeight": "normal", "titleColor": "black",
"titleX": -39, "titleY": -3, "titleAngle": 270, "titleAlign": "right", "titleBaseline": "middle"}}}},
{"data": {"values": [{}]},
"mark": {"type": "point", "opacity": 0},
"encoding": {
"x": {"datum": 3, "type": "quantitative", "scale": {"domain": [1.6, 5.5], "nice": false, "zero": false},
"axis": {"orient": "top", "values": [1.7,1.8,1.9,2,2.1,2.2,2.3,2.4,2.5,2.6,2.7,2.8,2.9,3,3.1,3.2,3.3,3.4,3.5,3.6,3.7,3.8,3.9,4,4.1,4.2,4.3,4.4,4.5,4.6,4.7,4.8,4.9,5,5.1,5.2,5.3,5.4,5.5],
"tickSize": {"condition": {"test": "abs(datum.value*2-round(datum.value*2))<0.01", "value": -6}, "value": -3},
"tickColor": "black", "tickWidth": 0.8, "domainColor": "black", "domainWidth": 1, "grid": false, "labels": false, "title": null}},
"y": {"datum": 1e-5, "type": "quantitative", "scale": {"type": "log", "domain": [1e-6, 1e-3], "nice": false},
"axis": {"orient": "right", "values": [1e-6,2e-6,3e-6,4e-6,5e-6,6e-6,7e-6,8e-6,9e-6,1e-5,2e-5,3e-5,4e-5,5e-5,6e-5,7e-5,8e-5,9e-5,1e-4,2e-4,3e-4,4e-4,5e-4,6e-4,7e-4,8e-4,9e-4,1e-3],
"tickSize": {"condition": {"test": "abs(log(datum.value)/LN10-round(log(datum.value)/LN10))<0.01", "value": -6}, "value": -3},
"tickColor": "black", "tickWidth": 0.8, "domainColor": "black", "domainWidth": 1, "grid": false, "labels": false, "title": null}}}}
]
}
